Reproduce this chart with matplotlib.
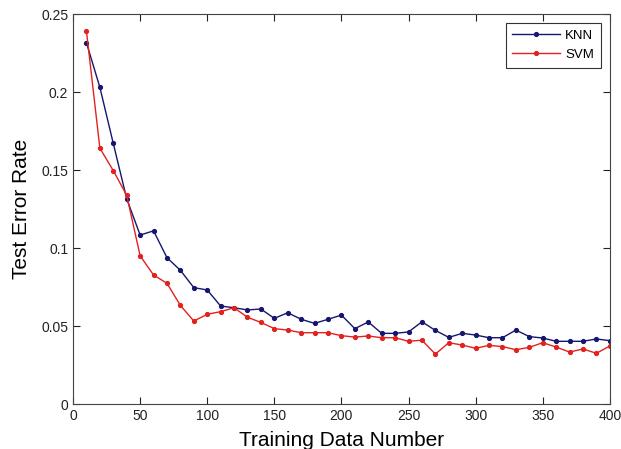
import numpy as np
import matplotlib.pyplot as plt

plt.rcParams['font.family'] = ['Liberation Sans', 'DejaVu Sans']

train_num = list(range(10, 401, 10))

knn_err = [0.2316, 0.203, 0.167, 0.1316, 0.1083, 0.111, 0.0938, 0.0857, 0.0746, 0.0731,
           0.0628, 0.0617, 0.0603, 0.0609, 0.0549, 0.0585, 0.0543, 0.0517, 0.0543, 0.057,
           0.0483, 0.0526, 0.0453, 0.0453, 0.0462, 0.0527, 0.0472, 0.0427, 0.0453, 0.0442,
           0.0425, 0.0425, 0.0474, 0.0432, 0.0423, 0.0402, 0.0402, 0.0402, 0.0417, 0.0406]

svm_err = [0.239, 0.164, 0.1496, 0.1338, 0.095, 0.0827, 0.0774, 0.0632, 0.0532, 0.0575,
           0.0592, 0.0617, 0.0556, 0.0523, 0.0483, 0.0474, 0.0457, 0.0457, 0.0457, 0.0438,
           0.0429, 0.0436, 0.0425, 0.0425, 0.0402, 0.0409, 0.032, 0.0393, 0.0378, 0.0357,
           0.0376, 0.0368, 0.0348, 0.0363, 0.0393, 0.0365, 0.0333, 0.0353, 0.0325, 0.0372]

fig = plt.figure(figsize=(6.21, 4.49), dpi=100)
ax = fig.add_axes([0.1176, 0.1002, 0.8644, 0.8686])

ax.plot(train_num, knn_err, color='#161670', marker='.', markersize=5.5, linewidth=1, label='KNN')
ax.plot(train_num, svm_err, color='#e3211f', marker='.', markersize=5.5, linewidth=1, label='SVM')

ax.set_xlim(0, 400)
ax.set_ylim(0, 0.25)
ax.set_xticks(np.arange(0, 401, 50))
ax.set_yticks([0, 0.05, 0.1, 0.15, 0.2, 0.25])
ax.set_yticklabels(['0', '0.05', '0.1', '0.15', '0.2', '0.25'])
ax.tick_params(direction='in', top=True, right=True, length=5, labelsize=10, colors='#222222')
for s in ax.spines.values():
    s.set_color('#444444')

ax.set_xlabel('Training Data Number', fontsize=15, labelpad=6)
ax.set_ylabel('Test Error Rate', fontsize=15, labelpad=7)

leg = ax.legend(loc='upper right', fontsize=9.5, fancybox=False, framealpha=1,
                edgecolor='#333333', borderaxespad=0.7, handlelength=3.6,
                handletextpad=0.4, borderpad=0.5)
leg.get_frame().set_linewidth(0.8)

fig.savefig('out.png', dpi=100)
